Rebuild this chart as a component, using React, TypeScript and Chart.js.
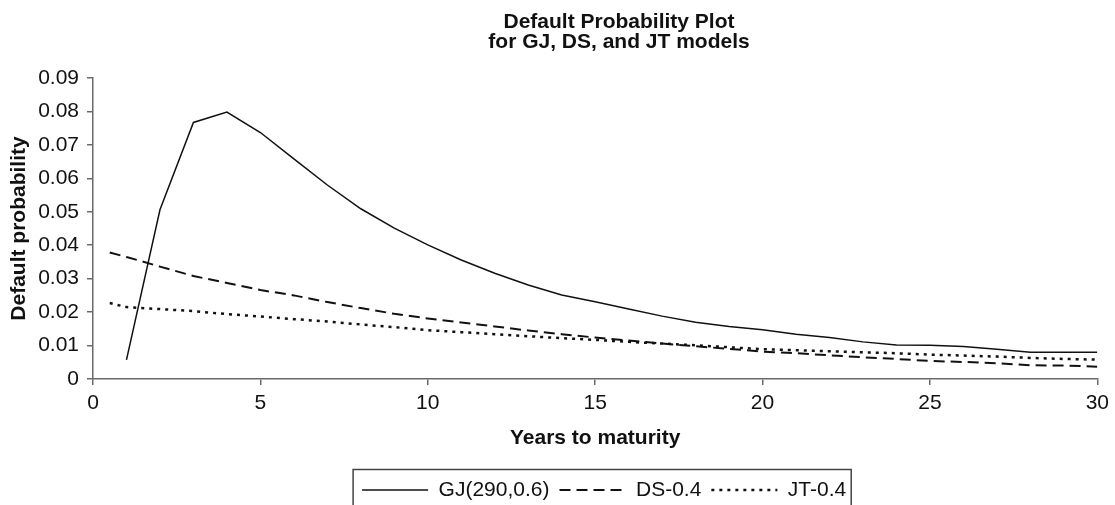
import React, { useEffect, useRef } from "react";
import { Chart, registerables } from "chart.js";

Chart.register(...registerables);

const TITLE_LINES = ["Default Probability Plot", "for GJ, DS, and JT models"];
const X_TITLE = "Years to maturity";
const Y_TITLE = "Default probability";

const GJ_LABEL = "GJ(290,0.6)";
const DS_LABEL = "DS-0.4";
const JT_LABEL = "JT-0.4";

const GJ_YEARS = [1, 2, 3, 4, 5, 6, 7, 8, 9, 10, 11, 12, 13, 14, 15, 16, 17, 18, 19, 20, 21, 22, 23, 24, 25, 26, 27, 28, 29, 30];
const GJ_VALUES = [0.0057, 0.0506, 0.0767, 0.0798, 0.0737, 0.0658, 0.058, 0.0509, 0.0451, 0.0401, 0.0356, 0.0316, 0.0281, 0.0251, 0.0231, 0.0209, 0.0188, 0.017, 0.0157, 0.0147, 0.0134, 0.0124, 0.0111, 0.0102, 0.0101, 0.0097, 0.0089, 0.008, 0.008, 0.008];

const DSJT_YEARS = [0.5, 1, 2, 3, 4, 5, 6, 7, 8, 9, 10, 11, 12, 13, 14, 15, 16, 17, 18, 19, 20, 21, 22, 23, 24, 25, 26, 27, 28, 29, 30];
const DS_VALUES = [0.0378, 0.0365, 0.0336, 0.0308, 0.0287, 0.0266, 0.025, 0.023, 0.0212, 0.0195, 0.0181, 0.0169, 0.0157, 0.0145, 0.0134, 0.0124, 0.0115, 0.0106, 0.0098, 0.009, 0.0082, 0.0077, 0.0071, 0.0065, 0.006, 0.0054, 0.0051, 0.0047, 0.0041, 0.004, 0.0037];
const JT_VALUES = [0.0227, 0.0215, 0.0209, 0.0203, 0.0194, 0.0187, 0.0179, 0.0172, 0.0163, 0.0155, 0.0146, 0.014, 0.0134, 0.0128, 0.0122, 0.0117, 0.0111, 0.0106, 0.0101, 0.0095, 0.0089, 0.0086, 0.0083, 0.008, 0.0077, 0.0073, 0.007, 0.0067, 0.0063, 0.006, 0.0058];

const X_MIN = 0;
const X_MAX = 30;
const X_STEP = 5;
const Y_MIN = 0;
const Y_MAX = 0.09;
const Y_STEP = 0.01;

const FONT = "'Liberation Sans', Arial, Helvetica, sans-serif";
const INK = "#111";
const AXIS = "#6a6a6a";

const titlePlugin = {
  id: "customTitle",
  afterDraw(chart: any) {
    const ctx = chart.ctx;
    ctx.save();
    ctx.fillStyle = INK;
    ctx.font = `bold 21px ${FONT}`;
    ctx.textAlign = "center";
    ctx.textBaseline = "alphabetic";
    TITLE_LINES.forEach((line, i) => {
      ctx.fillText(line, 619, 28 + i * 20);
    });
    ctx.restore();
  },
};

const legendShiftPlugin = {
  id: "legendShift",
  afterLayout(chart: any) {
    const lg = chart.legend;
    if (!lg) return;
    lg.left += 9;
    lg.right += 9;
  },
};

const legendFramePlugin = {
  id: "legendFrame",
  afterDraw(chart: any) {
    const lg = chart.legend;
    if (!lg || !lg.legendHitBoxes || !lg.legendHitBoxes.length) return;
    const boxes = lg.legendHitBoxes;
    let l = Infinity;
    let r = -Infinity;
    boxes.forEach((b: any) => {
      l = Math.min(l, b.left);
      r = Math.max(r, b.left + b.width);
    });
    const ctx = chart.ctx;
    ctx.save();
    ctx.strokeStyle = "#444";
    ctx.lineWidth = 1.5;
    ctx.strokeRect(l - 9, lg.top, r - l + 14, 60);
    ctx.restore();
  },
};

export default function App() {
  const ref = useRef<HTMLCanvasElement | null>(null);

  useEffect(() => {
    if (!ref.current) return;
    Chart.defaults.font.family = FONT;
    Chart.defaults.font.size = 21;
    Chart.defaults.color = INK;

    const toPts = (xs: number[], ys: number[]) => xs.map((x, i) => ({ x, y: ys[i] }));
    const baseGen = (Chart.defaults.plugins.legend.labels as any).generateLabels;

    const chart = new Chart(ref.current, {
      type: "line",
      data: {
        datasets: [
          {
            label: GJ_LABEL,
            data: toPts(GJ_YEARS, GJ_VALUES),
            borderColor: INK,
            backgroundColor: INK,
            borderWidth: 1.5,
            pointRadius: 0,
            tension: 0,
          },
          {
            label: DS_LABEL,
            data: toPts(DSJT_YEARS, DS_VALUES),
            borderColor: INK,
            backgroundColor: INK,
            borderWidth: 2,
            borderDash: [11, 6],
            pointRadius: 0,
            tension: 0,
          },
          {
            label: JT_LABEL,
            data: toPts(DSJT_YEARS, JT_VALUES),
            borderColor: INK,
            backgroundColor: INK,
            borderWidth: 2.5,
            borderDash: [3, 5],
            pointRadius: 0,
            tension: 0,
          },
        ],
      },
      options: {
        animation: false,
        responsive: true,
        maintainAspectRatio: false,
        layout: { padding: { top: 78, right: 16, left: 0, bottom: 0 } },
        plugins: {
          title: { display: false },
          tooltip: { enabled: false },
          legend: {
            display: true,
            position: "bottom",
            fullSize: false,
            maxHeight: 35.5,
            labels: {
              usePointStyle: true,
              pointStyle: "line",
              pointStyleWidth: 66,
              padding: 10,
              color: INK,
              font: { size: 21, family: FONT },
              generateLabels: (c: any) => {
                const items = baseGen(c);
                return items.map((it: any) => {
                  const ds = c.data.datasets[it.datasetIndex];
                  return {
                    ...it,
                    lineDash: ds.borderDash || [],
                    lineWidth: ds.borderWidth,
                    strokeStyle: INK,
                    pointStyle: "line",
                  };
                });
              },
            },
          },
        },
        scales: {
          x: {
            type: "linear",
            min: X_MIN,
            max: X_MAX,
            ticks: {
              stepSize: X_STEP,
              padding: 6,
              color: INK,
              font: { size: 21 },
              maxRotation: 0,
            },
            grid: {
              display: true,
              drawOnChartArea: false,
              drawTicks: true,
              tickLength: 6,
              color: AXIS,
              lineWidth: 1.5,
            },
            border: { display: true, color: AXIS, width: 1.5 },
            title: {
              display: true,
              text: X_TITLE,
              color: INK,
              font: { size: 21, weight: "bold" },
              padding: { top: 0, bottom: 19 },
            },
            afterFit: (scale: any) => {
              scale.height = 90.5;
            },
          },
          y: {
            type: "linear",
            min: Y_MIN,
            max: Y_MAX,
            ticks: {
              stepSize: Y_STEP,
              padding: 8,
              color: INK,
              font: { size: 21 },
              callback: (v: any) => (Math.abs(v) < 1e-9 ? "0" : Number(v).toFixed(2)),
            },
            grid: {
              display: true,
              drawOnChartArea: false,
              drawTicks: true,
              tickLength: 6,
              color: AXIS,
              lineWidth: 1.5,
            },
            border: { display: true, color: AXIS, width: 1.5 },
            title: {
              display: true,
              text: Y_TITLE,
              color: INK,
              font: { size: 21, weight: "bold" },
              padding: { top: 7, bottom: 0 },
            },
            afterFit: (scale: any) => {
              scale.width = 93;
            },
          },
        },
      },
      plugins: [titlePlugin, legendShiftPlugin, legendFramePlugin],
    });

    return () => chart.destroy();
  }, []);

  return (
    <div style={{ position: "fixed", left: 0, top: 0, width: 1115, height: 505, background: "#fff" }}>
      <canvas ref={ref} style={{ display: "block" }} />
    </div>
  );
}
